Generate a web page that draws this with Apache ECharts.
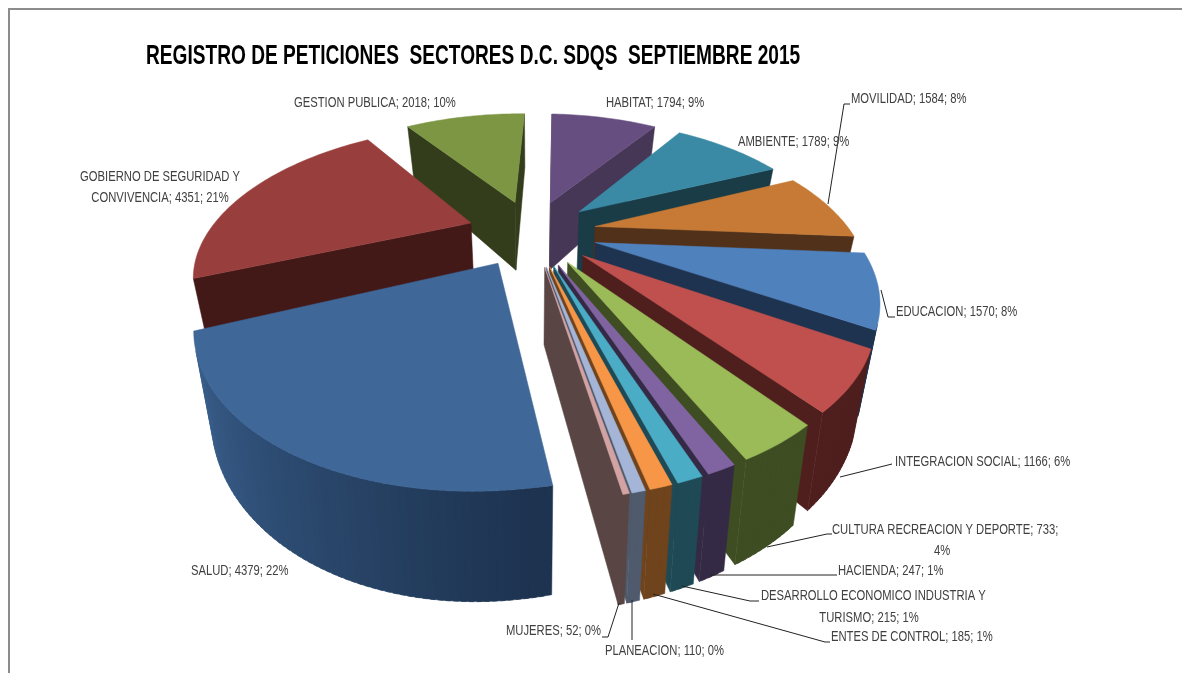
<!DOCTYPE html>
<html>
<head>
<meta charset="utf-8">
<title>Registro de peticiones</title>
<script src="https://cdn.jsdelivr.net/npm/echarts@6/dist/echarts.min.js"></script>
<style>
html, body { margin: 0; padding: 0; background: #fff; }
#main { width: 1182px; height: 673px; }
</style>
</head>
<body>
<div id="main"></div>
<script>
var sectors = ['HABITAT', 'AMBIENTE', 'MOVILIDAD', 'EDUCACION', 'INTEGRACION SOCIAL', 'CULTURA RECREACION Y DEPORTE', 'HACIENDA', 'DESARROLLO ECONOMICO INDUSTRIA Y TURISMO', 'ENTES DE CONTROL', 'PLANEACION', 'MUJERES', 'SALUD', 'GOBIERNO DE SEGURIDAD Y CONVIVENCIA', 'GESTION PUBLICA'];
var peticiones = [1794, 1789, 1584, 1570, 1166, 733, 247, 215, 185, 110, 52, 4379, 4351, 2018];
var porcentajes = [9, 9, 8, 8, 6, 4, 1, 1, 1, 0, 0, 22, 21, 10];

var topColors = ['#664f80', '#3a8aa5', '#c67a35', '#4f81bd', '#c0504d', '#9bbb59', '#8064a2', '#4bacc6', '#f79646', '#a5b5d8', '#d3a3a3', '#3f6797', '#983e3c', '#7c9643'];
var wallColors = ['#463757', '#193c47', '#52311a', '#1d3350', '#4f1f1e', '#3e4d22', '#352a45', '#1f4a55', '#6f431c', '#4f5a6c', '#594644', '#1d3350', '#431918', '#333d1c'];

// camara de la torta 3D
var cam = { cx: 532, cy: 232, s: 260, a: 132, k: 0.31, h: 73, mx: 0.055, my: 0.012, shear: 0.03, rollR: 5, rollL: 2 };
var explode = 0.25;

var total = peticiones.reduce(function (a, b) { return a + b; }, 0);
var slices = [];
var acum = 0;
peticiones.forEach(function (v, i) {
    var a0 = acum / total * Math.PI * 2;
    acum += v;
    var a1 = acum / total * Math.PI * 2;
    slices.push({ i: i, a0: a0, a1: a1, mid: (a0 + a1) / 2 });
});
// de atras hacia adelante
var orden = slices.slice().sort(function (p, q) { return Math.cos(q.mid) - Math.cos(p.mid); });

function project(x, y, z) {
    var w = 1 + cam.k * y;
    var px = x + cam.shear * y;
    var roll = (x > 0 ? cam.rollR : cam.rollL) * x;
    return [
        cam.cx + cam.s * px / (w * (1 + cam.mx * z)),
        cam.cy + (-cam.a * y + cam.h * z + roll) / (w + cam.my * z)
    ];
}
function mix(c1, c2, t) {
    var p = function (c, n) { return parseInt(c.substr(n, 2), 16); };
    var out = '#';
    [1, 3, 5].forEach(function (n) {
        var h = Math.round(p(c1, n) + (p(c2, n) - p(c1, n)) * t).toString(16);
        out += h.length < 2 ? '0' + h : h;
    });
    return out;
}
function area(pts) {
    var s = 0;
    for (var i = 0; i < pts.length; i++) {
        var n = pts[(i + 1) % pts.length];
        s += pts[i][0] * n[1] - n[0] * pts[i][1];
    }
    return s;
}
function face(pts, color) {
    if (area(pts) >= 0) return null;
    return { type: 'polygon', shape: { points: pts }, style: { fill: color, stroke: color, lineWidth: 0.5 } };
}

function renderSlice(params, api) {
    var sl = slices[api.value(0)];
    var ox = explode * Math.sin(sl.mid), oy = explode * Math.cos(sl.mid);
    var pt = function (r, ang, z) { return project(ox + r * Math.sin(ang), oy + r * Math.cos(ang), z); };
    var top = topColors[sl.i], wall = wallColors[sl.i];
    var kids = [];
    var add = function (f) { if (f) kids.push(f); };

    add(face([pt(0, 0, 0), pt(1, sl.a0, 0), pt(1, sl.a0, 1), pt(0, 0, 1)], wall));
    add(face([pt(1, sl.a1, 0), pt(0, 0, 0), pt(0, 0, 1), pt(1, sl.a1, 1)], wall));

    var n = Math.max(2, Math.ceil((sl.a1 - sl.a0) / 0.02));
    for (var j = 0; j < n; j++) {
        var b0 = sl.a0 + (sl.a1 - sl.a0) * j / n;
        var b1 = Math.min(sl.a1, sl.a0 + (sl.a1 - sl.a0) * (j + 1) / n + 0.012);
        var deg = (b0 + b1) / 2 * 180 / Math.PI;
        var t = Math.max(0, Math.min(1, (deg - 172) / 74));
        add(face([pt(1, b0, 0), pt(1, b1, 0), pt(1, b1, 1), pt(1, b0, 1)], mix(wall, top, t * 0.9)));
    }

    var cara = [pt(0, 0, 0)];
    for (var q = 0; q <= n; q++) cara.push(pt(1, sl.a0 + (sl.a1 - sl.a0) * q / n, 0));
    kids.push({ type: 'polygon', shape: { points: cara }, style: { fill: top, stroke: top, lineWidth: 0.5 } });

    return { type: 'group', children: kids };
}

function etiqueta(i) {
    return sectors[i] + '; ' + peticiones[i] + '; ' + porcentajes[i] + '%';
}

var fuente = '"Liberation Sans", sans-serif';

var labelTexts = [
    { t: etiqueta(13), x: 294, y: 103 },
    { t: etiqueta(0), x: 606, y: 103 },
    { t: etiqueta(2), x: 851, y: 99 },
    { t: etiqueta(1), x: 738, y: 142 },
    { t: 'GOBIERNO DE SEGURIDAD Y', x: 160, y: 177, c: 1 },
    { t: 'CONVIVENCIA; ' + peticiones[12] + '; ' + porcentajes[12] + '%', x: 160, y: 198, c: 1 },
    { t: etiqueta(3), x: 896, y: 312 },
    { t: etiqueta(4), x: 895, y: 462 },
    { t: 'CULTURA RECREACION Y DEPORTE; ' + peticiones[5] + ';', x: 832, y: 530 },
    { t: porcentajes[5] + '%', x: 942, y: 551, c: 1 },
    { t: etiqueta(6), x: 838, y: 571 },
    { t: 'DESARROLLO ECONOMICO INDUSTRIA Y', x: 761, y: 596 },
    { t: 'TURISMO; ' + peticiones[7] + '; ' + porcentajes[7] + '%', x: 869, y: 618, c: 1 },
    { t: etiqueta(8), x: 831, y: 637 },
    { t: etiqueta(9), x: 605, y: 651 },
    { t: etiqueta(10), x: 506, y: 631 },
    { t: etiqueta(11), x: 191, y: 571 }
];
var leaders = [
    [[828, 204], [844, 104], [850, 104]],
    [[881, 290], [888, 317], [895, 317]],
    [[840, 477], [892, 464]],
    [[767, 547], [827, 534], [832, 534]],
    [[710, 575], [837, 575]],
    [[682, 586], [750, 601], [759, 601]],
    [[653, 594], [825, 642], [830, 642]],
    [[632, 600], [632, 640]],
    [[619, 603], [608, 637], [602, 637]]
];

var elementos = [
    { type: 'line', shape: { x1: 8, y1: 9, x2: 1182, y2: 9 }, style: { stroke: '#8c8c8c', lineWidth: 2 } },
    { type: 'line', shape: { x1: 9, y1: 9, x2: 9, y2: 673 }, style: { stroke: '#8c8c8c', lineWidth: 2 } },
    { type: 'text', x: 146, y: 56, scaleX: 0.683, style: { text: 'REGISTRO DE PETICIONES  SECTORES D.C. SDQS  SEPTIEMBRE 2015', font: 'bold 28px ' + fuente, fill: '#000', textVerticalAlign: 'middle' } }
];
leaders.forEach(function (l) {
    elementos.push({ type: 'polyline', z: 5, shape: { points: l }, style: { stroke: '#222', lineWidth: 1, fill: null } });
});
labelTexts.forEach(function (l) {
    elementos.push({ type: 'text', z: 6, x: l.x, y: l.y, scaleX: 0.775, style: { text: l.t, font: '14.5px ' + fuente, fill: '#404040', textAlign: l.c ? 'center' : 'left', textVerticalAlign: 'middle' } });
});

var myChart = echarts.init(document.getElementById('main'));
myChart.setOption({
    animation: false,
    backgroundColor: '#fff',
    graphic: { elements: elementos },
    series: [{
        type: 'custom',
        coordinateSystem: 'none',
        renderItem: renderSlice,
        data: orden.map(function (s) { return [s.i, peticiones[s.i]]; })
    }]
});
</script>
</body>
</html>
